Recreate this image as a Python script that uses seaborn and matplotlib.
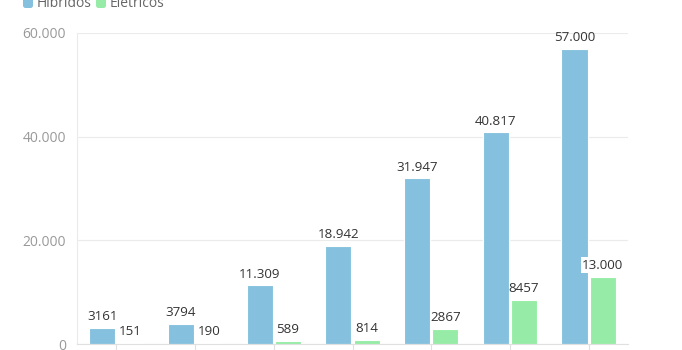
import matplotlib
matplotlib.use("Agg")
import matplotlib.pyplot as plt
from matplotlib.patches import FancyBboxPatch
from matplotlib.ticker import FuncFormatter
import seaborn as sns
import pandas as pd

# Vendas anuais de veículos eletrificados
anos = ["2012", "2013", "2014", "2015", "2016", "2017", "2018"]
hibridos = [3161, 3794, 11309, 18942, 31947, 40817, 57000]
eletricos = [151, 190, 589, 814, 2867, 8457, 13000]
series = ["Híbridos", "Elétricos"]
cores = ["#85c1de", "#96eca6"]
y_ticks = [0, 20000, 40000, 60000]

df = pd.DataFrame({
    "ano": anos * 2,
    "valor": hibridos + eletricos,
    "tipo": [series[0]] * len(anos) + [series[1]] * len(anos),
})

sns.set_theme(style="white")
plt.rcParams["font.family"] = ["Open Sans", "DejaVu Sans"]

fig = plt.figure(figsize=(6.82, 3.5), dpi=100)
ax = fig.add_axes([77 / 682, 1 - 344 / 350, (628 - 77) / 682, (344 - 33) / 350])

sns.barplot(data=df, x="ano", y="valor", hue="tipo", palette=cores,
            saturation=1, width=0.72, gap=0.08, edgecolor="white",
            linewidth=0.8, legend=False, ax=ax)


def fmt_milhar(v):
    v = int(round(v))
    return f"{v:,}".replace(",", ".")


def fmt_rotulo(v):
    return str(v) if v < 10000 else fmt_milhar(v)


for container, valores in zip(ax.containers, [hibridos, eletricos]):
    for bar, v in zip(container, valores):
        cx = bar.get_x() + bar.get_width() / 2
        bbox = None
        if v == 13000:
            bbox = dict(boxstyle="square,pad=0.12", fc="white", ec="none")
        ax.annotate(fmt_rotulo(v), (cx, bar.get_height()), xytext=(0, 3.5),
                    textcoords="offset points", ha="center", va="bottom",
                    fontsize=9.6, color="#333333", bbox=bbox)

ax.set_ylim(0, 60000)
ax.set_xlim(-0.5, len(anos) - 0.5)
ax.set_yticks(y_ticks)
ax.yaxis.set_major_formatter(FuncFormatter(lambda v, p: fmt_milhar(v)))
ax.grid(axis="y", color="#ebebeb", linewidth=0.8)
ax.set_axisbelow(True)
ax.set_xlabel("")
ax.set_ylabel("")

for side in ["top", "right"]:
    ax.spines[side].set_visible(False)
ax.spines["left"].set_color("#ebebeb")
ax.spines["left"].set_linewidth(0.8)
ax.spines["bottom"].set_color("#e0e0e0")
ax.spines["bottom"].set_linewidth(0.8)

ax.tick_params(axis="y", length=5, width=0.8, color="#ebebeb", pad=3,
               labelsize=10, labelcolor="#999999")
ax.tick_params(axis="x", length=6, width=0.8, color="#e0e0e0",
               labelbottom=False, bottom=True)

# Legenda no topo
leg_x = [0.23, 0.96]
for cor, nome, x in zip(cores, series, leg_x):
    fig.patches.append(FancyBboxPatch((x, 3.42), 0.10, 0.11,
                                      boxstyle="round,pad=0,rounding_size=0.025",
                                      fc=cor, ec="none",
                                      transform=fig.dpi_scale_trans))
    fig.text(x + 0.14, 3.43, nome, transform=fig.dpi_scale_trans,
             ha="left", va="baseline", fontsize=10, color="#666666")

fig.savefig("out.png", dpi=100)
